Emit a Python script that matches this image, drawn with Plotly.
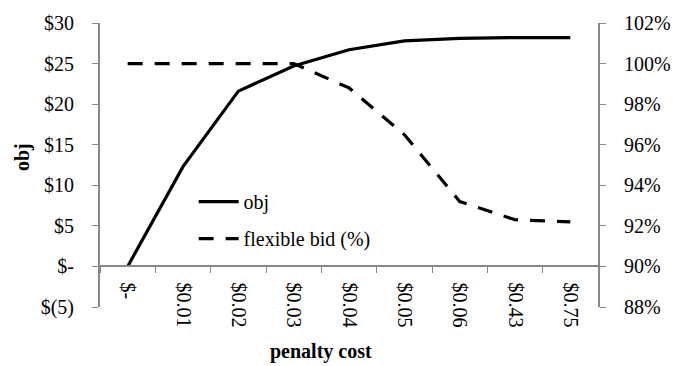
import plotly.graph_objects as go

# Penalty cost levels (category axis)
penalty_cost = ["$-", "$0.01", "$0.02", "$0.03", "$0.04", "$0.05", "$0.06", "$0.43", "$0.75"]

# Objective value ($) and share of flexible bids (%)
obj_values = [0.0, 12.3, 21.6, 24.7, 26.7, 27.8, 28.1, 28.2, 28.2]
flexible_bid = [100.0, 100.0, 100.0, 100.0, 98.8, 96.5, 93.2, 92.3, 92.2]

# Left axis tick labels (accounting style)
obj_tickvals = [-5, 0, 5, 10, 15, 20, 25, 30]
obj_ticktext = ["$(5)", "$-", "$5", "$10", "$15", "$20", "$25", "$30"]

# Right axis ticks
pct_tickvals = [88, 90, 92, 94, 96, 98, 100, 102]
pct_ticktext = [f"{v}%" for v in pct_tickvals]

FONT = "Liberation Serif"
AXIS_COLOR = "#888888"

fig = go.Figure()

fig.add_trace(go.Scatter(
    x=penalty_cost, y=obj_values, name="obj", mode="lines",
    line=dict(color="black", width=3.2),
    legendgroup="a",
))
fig.add_trace(go.Scatter(
    x=penalty_cost, y=flexible_bid, name="flexible bid (%)", mode="lines",
    line=dict(color="black", width=3.2, dash="15px,12px"),
    yaxis="y2", legendgroup="b",
))

y_min, y_max = -5, 30

fig.update_layout(
    width=683, height=366,
    margin=dict(l=100, r=83, t=16, b=59),
    paper_bgcolor="white", plot_bgcolor="white",
    font=dict(family=FONT, size=20, color="black"),
    showlegend=True,
    legend=dict(
        x=0.188, y=0.44, xanchor="left", yanchor="top",
        bgcolor="rgba(0,0,0,0)", tracegroupgap=8,
        font=dict(family=FONT, size=20),
        itemwidth=40,
    ),
    xaxis=dict(
        type="category",
        range=[-0.5, len(penalty_cost) - 0.5],
        anchor="free", position=(0 - y_min) / (y_max - y_min),
        showline=True, linecolor=AXIS_COLOR, linewidth=2,
        ticks="outside", ticklen=6, tickcolor=AXIS_COLOR, tickwidth=1,
        tickson="boundaries",
        tickangle=90,
        showgrid=False, zeroline=False,
        tickfont=dict(family=FONT, size=20),
        ticklabelstandoff=11,
    ),
    yaxis=dict(
        range=[y_min, y_max],
        tickvals=obj_tickvals, ticktext=obj_ticktext,
        showline=True, linecolor=AXIS_COLOR, linewidth=2,
        ticks="outside", ticklen=6, tickcolor=AXIS_COLOR, tickwidth=1,
        showgrid=False, zeroline=False,
        tickfont=dict(family=FONT, size=20),
        ticklabelstandoff=14,
    ),
    yaxis2=dict(
        range=[88, 102],
        tickvals=pct_tickvals, ticktext=pct_ticktext,
        overlaying="y", side="right",
        showline=True, linecolor=AXIS_COLOR, linewidth=2,
        ticks="outside", ticklen=6, tickcolor=AXIS_COLOR, tickwidth=1,
        showgrid=False, zeroline=False,
        tickfont=dict(family=FONT, size=20),
        ticklabelstandoff=14,
    ),
    annotations=[
        dict(text="<b>obj</b>", textangle=-90, xref="paper", yref="paper",
             x=-0.156, y=0.529, xanchor="center", yanchor="middle",
             showarrow=False, font=dict(family=FONT, size=20)),
        dict(text="<b>penalty cost</b>", xref="paper", yref="paper",
             x=0.444, y=-0.157, xanchor="center", yanchor="middle",
             showarrow=False, font=dict(family=FONT, size=20)),
    ],
)

fig.write_html("out.html")
